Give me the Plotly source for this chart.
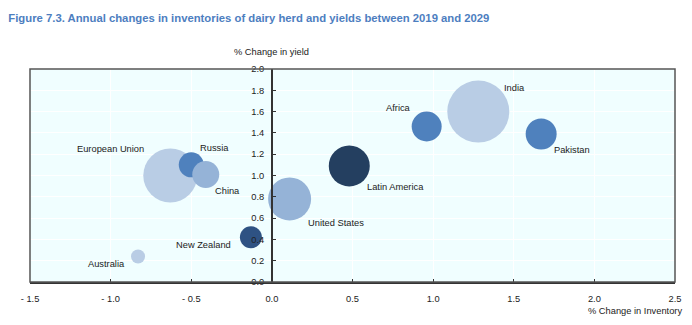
import plotly.graph_objects as go

regions = ["European Union", "Russia", "China", "Africa", "India", "Pakistan",
           "Latin America", "United States", "New Zealand", "Australia"]
inventory_change = [-0.63, -0.50, -0.41, 0.96, 1.28, 1.67, 0.48, 0.11, -0.13, -0.83]
yield_change = [1.00, 1.10, 1.01, 1.46, 1.60, 1.39, 1.09, 0.78, 0.42, 0.24]
bubble_size = [54, 25, 27, 30, 62, 31, 41, 43, 22, 14]

colors = ["#B9CDE5", "#4F81BD", "#95B3D7", "#4F81BD", "#B9CDE5", "#4F81BD",
          "#243F60", "#95B3D7", "#2E5283", "#B9CDE5"]
# label placement (style only): anchor, x shift, y shift in px
label_style = [("right", -24, 27), ("left", 7, 17), ("left", 7, -17), ("right", -14, 19),
               ("left", 24, 24), ("left", 11, -16), ("left", 16, -21), ("left", 16, -24),
               ("right", -18, -8), ("right", -11, -8)]

x_ticks = [-1.5, -1.0, -0.5, 0.0, 0.5, 1.0, 1.5, 2.0, 2.5]
x_ticktext = ["- 1.5", "- 1.0", "- 0.5", "0.0", "0.5", "1.0", "1.5", "2.0", "2.5"]
y_ticks = [0.0, 0.2, 0.4, 0.6, 0.8, 1.0, 1.2, 1.4, 1.6, 1.8, 2.0]

FONT = "Liberation Sans Narrow, Arial Narrow, Liberation Sans, Arial, sans-serif"
LBL = 9.3

fig = go.Figure()
fig.add_trace(go.Scatter(
    x=inventory_change, y=yield_change, mode="markers",
    marker=dict(size=bubble_size, sizemode="diameter", sizeref=1, color=colors,
                opacity=1, line=dict(width=0)),
    hoverinfo="text", text=regions, showlegend=False, cliponaxis=False))

for name, xv, yv, (anc, xs, ys) in zip(regions, inventory_change, yield_change, label_style):
    fig.add_annotation(x=xv, y=yv, text=name, showarrow=False, xanchor=anc, yanchor="middle",
                       xshift=xs, yshift=ys, font=dict(family=FONT, size=LBL, color="#222222"))

fig.add_annotation(xref="paper", yref="paper", x=0.375, y=1.0, yshift=17, text="% Change in yield",
                   showarrow=False, xanchor="center", yanchor="middle",
                   font=dict(family=FONT, size=LBL, color="#222222"))
fig.add_annotation(xref="paper", yref="paper", x=1.0, y=0, xshift=9, yshift=-29,
                   text="% Change in Inventory", showarrow=False, xanchor="right", yanchor="middle",
                   font=dict(family=FONT, size=LBL, color="#222222"))

fig.add_shape(type="rect", xref="paper", yref="paper", x0=0, x1=1, y0=0, y1=1,
              line=dict(color="#555555", width=1.5), layer="above")

fig.update_layout(
    width=692, height=325,
    margin=dict(l=30, r=17, t=69, b=43),
    paper_bgcolor="white", plot_bgcolor="#F0FEFF",
    title=dict(text="<b>Figure 7.3. Annual changes in inventories of dairy herd and yields between 2019 and 2029</b>",
               x=0.012, xanchor="left", y=0.945, yanchor="middle",
               font=dict(family=FONT, size=11.3, color="#4D7EBF")),
    xaxis=dict(range=[-1.5, 2.5], tickvals=x_ticks, ticktext=x_ticktext,
               showgrid=True, gridcolor="white", gridwidth=1, zeroline=False,
               showline=True, linecolor="#333333", linewidth=1.5,
               ticks="inside", ticklen=3, tickcolor="#333333", ticklabelstandoff=7,
               tickfont=dict(family=FONT, size=LBL, color="#222222")),
    yaxis=dict(range=[0, 2], tickvals=y_ticks, tickformat=".1f",
               anchor="free", position=0.375,
               showgrid=True, gridcolor="white", gridwidth=1, zeroline=False,
               showline=True, linecolor="#333333", linewidth=1.5,
               ticks="inside", ticklen=3, tickcolor="#333333", ticklabelstandoff=5,
               tickfont=dict(family=FONT, size=LBL, color="#222222")),
)

fig.write_html("out.html")
